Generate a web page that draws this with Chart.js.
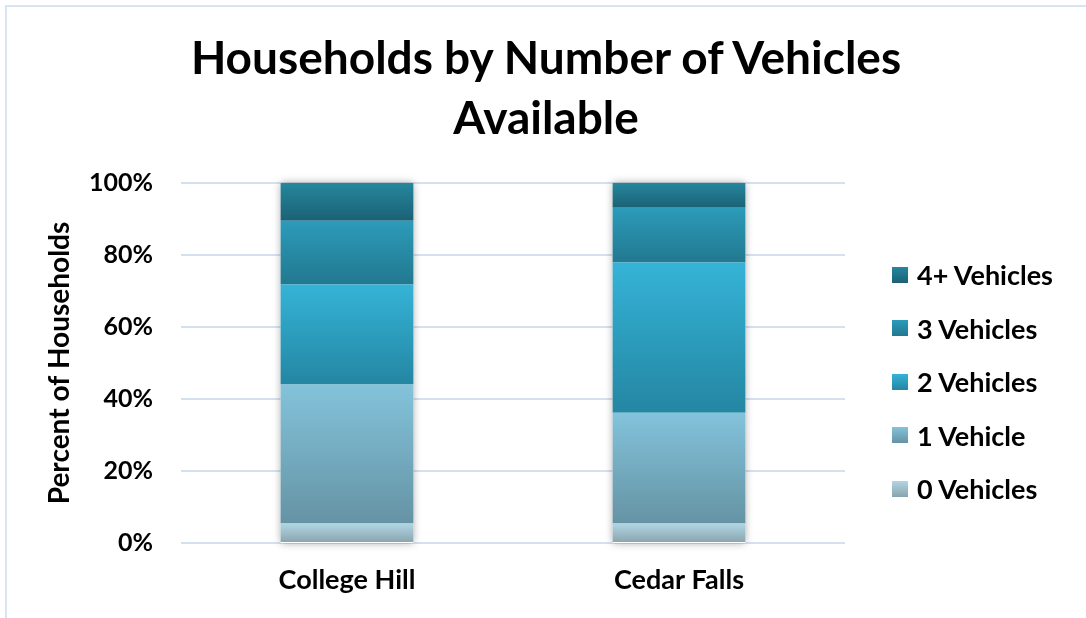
<!DOCTYPE html>
<html>
<head>
<meta charset="utf-8">
<script src="https://cdn.jsdelivr.net/npm/chart.js@4"></script>
<style>
  html, body { margin: 0; padding: 0; background: #fff; overflow: hidden; }
  body { font-family: Lato, "Open Sans", sans-serif; }
  #frame {
    position: absolute; left: 5px; top: 5px;
    width: 1100px; height: 640px;
    border: 2px solid #dae3f3;
  }
  #vehChart { position: absolute; left: 0; top: 0; }
  #title {
    position: absolute; left: 0; top: 27px; width: 1092px;
    text-align: center; font-size: 46px; font-weight: bold; line-height: 60px; color: #000;
  }
  #legend { position: absolute; left: 892px; top: 248px; }
  .item { height: 53.5px; display: flex; align-items: center; font-size: 27px; font-weight: bold; color: #000; }
  .swatch { width: 16px; height: 16px; margin-right: 9px; }
</style>
</head>
<body>
<div id="frame"></div>
<canvas id="vehChart" width="1086" height="618"></canvas>
<div id="title">Households by Number of Vehicles<br>Available</div>
<div id="legend"></div>
<script>
const places = ['College Hill', 'Cedar Falls'];
const seriesNames = ['0 Vehicles', '1 Vehicle', '2 Vehicles', '3 Vehicles', '4+ Vehicles'];
const zeroVeh = [5.4, 5.4];
const oneVeh = [38.6, 30.8];
const twoVeh = [27.8, 41.7];
const threeVeh = [17.7, 15.2];
const fourVeh = [10.5, 6.9];
const yTicks = [0, 20, 40, 60, 80, 100];

// top / bottom colours of each segment gradient
const shades = [
    ['#b0d6e3', '#88a3ad'],
    ['#83c3db', '#6593a4'],
    ['#35b3d7', '#2486a2'],
    ['#2c9bba', '#22788f'],
    ['#25879d', '#1b6175']
];

const allSeries = [zeroVeh, oneVeh, twoVeh, threeVeh, fourVeh];
const fontFam = 'Lato, "Open Sans", sans-serif';

function segGradient(ctx, dsIdx) {
    const chart = ctx.chart;
    if (!chart.chartArea || ctx.dataIndex === undefined) return shades[dsIdx][0];
    const i = ctx.dataIndex;
    let start = 0;
    for (let d = 0; d < dsIdx; d++) start += allSeries[d][i];
    const end = start + allSeries[dsIdx][i];
    const y = chart.scales.y;
    const g = chart.ctx.createLinearGradient(0, y.getPixelForValue(end), 0, y.getPixelForValue(start));
    g.addColorStop(0, shades[dsIdx][0]);
    g.addColorStop(1, shades[dsIdx][1]);
    return g;
}

// soft shadow behind each stacked column
const barShadow = {
    id: 'barShadow',
    beforeDatasetsDraw(chart) {
        const meta = chart.getDatasetMeta(0);
        const y = chart.scales.y;
        const c = chart.ctx;
        c.save();
        c.shadowColor = 'rgba(0,0,0,0.35)';
        c.shadowBlur = 8;
        c.fillStyle = '#ffffff';
        meta.data.forEach(bar => {
            const top = y.getPixelForValue(100);
            const bottom = y.getPixelForValue(0);
            c.fillRect(bar.x - bar.width / 2, top, bar.width, bottom - top);
        });
        c.restore();
    }
};

const vehCtx = document.getElementById('vehChart');
new Chart(vehCtx, {
    type: 'bar',
    data: {
        labels: places,
        datasets: allSeries.map((vals, k) => ({
            label: seriesNames[k],
            data: vals,
            backgroundColor: (ctx) => segGradient(ctx, k),
            borderWidth: 0,
            barPercentage: 0.4,
            categoryPercentage: 1
        }))
    },
    options: {
        responsive: false,
        animation: false,
        layout: { padding: { left: 43, right: 241, top: 183, bottom: 0 } },
        plugins: {
            legend: { display: false },
            tooltip: { enabled: false }
        },
        scales: {
            x: {
                stacked: true,
                grid: { display: false },
                border: { display: false },
                ticks: { color: '#000', font: { family: fontFam, size: 27, weight: 'bold' }, padding: 13 },
                afterFit(axis) { axis.height = 75; }
            },
            y: {
                stacked: true,
                min: 0,
                max: 100,
                afterBuildTicks(axis) { axis.ticks = yTicks.map(v => ({ value: v })); },
                afterFit(axis) { axis.width = 138; },
                grid: { color: '#d6e1f0', lineWidth: 2, drawTicks: false },
                border: { display: false },
                title: {
                    display: true,
                    text: 'Percent of Households',
                    color: '#000',
                    font: { family: fontFam, size: 28, weight: 'bold', lineHeight: 1.2 },
                    padding: 0
                },
                ticks: {
                    color: '#000',
                    font: { family: fontFam, size: 25, weight: 'bold' },
                    padding: 28,
                    callback: v => v + '%'
                }
            }
        }
    },
    plugins: [barShadow]
});

// legend, top series first
const legendBox = document.getElementById('legend');
for (let k = seriesNames.length - 1; k >= 0; k--) {
    const item = document.createElement('div');
    item.className = 'item';
    const sw = document.createElement('span');
    sw.className = 'swatch';
    sw.style.background = 'linear-gradient(' + shades[k][0] + ', ' + shades[k][1] + ')';
    item.appendChild(sw);
    item.appendChild(document.createTextNode(seriesNames[k]));
    legendBox.appendChild(item);
}
</script>
</body>
</html>
